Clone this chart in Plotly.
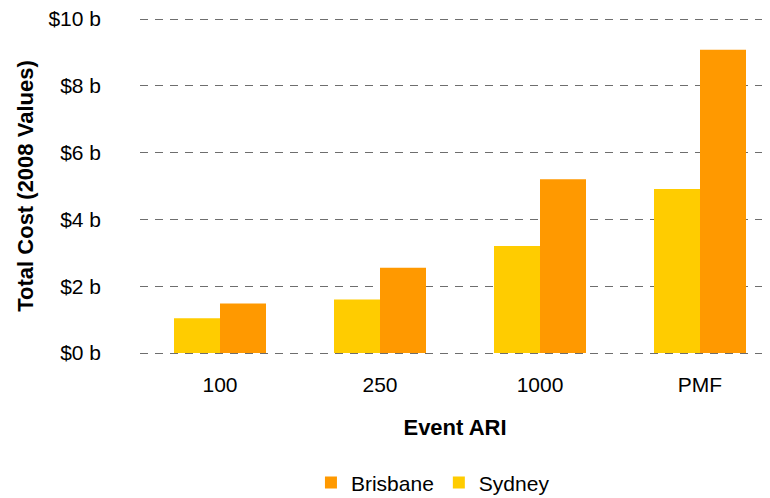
import plotly.graph_objects as go

categories = ["100", "250", "1000", "PMF"]
sydney = [1.04, 1.6, 3.2, 4.91]
brisbane = [1.48, 2.55, 5.2, 9.08]
y_ticks = [0, 2, 4, 6, 8, 10]
y_tick_labels = ["$0 b", "$2 b", "$4 b", "$6 b", "$8 b", "$10 b"]

fig = go.Figure()
fig.add_trace(go.Bar(x=categories, y=sydney, name="Sydney", marker=dict(color="#FFCC00", line=dict(width=0))))
fig.add_trace(go.Bar(x=categories, y=brisbane, name="Brisbane", marker=dict(color="#FF9900", line=dict(width=0))))

font = "Liberation Sans, Arial, sans-serif"
# The page body has an 8px default margin, so the figure is sized 762x490.
fig.update_layout(
    template="none",
    width=762, height=490,
    margin=dict(l=132, r=0, t=9, b=143, autoexpand=False),
    plot_bgcolor="white", paper_bgcolor="white",
    barmode="group", bargap=0.425, bargroupgap=0,
    font=dict(family=font, size=21, color="#000000"),
    showlegend=True,
    legend=dict(orientation="h", x=0.465, xanchor="center", y=-0.378, yanchor="middle",
                traceorder="reversed", font=dict(size=21), itemwidth=30,
                bgcolor="rgba(0,0,0,0)"),
    xaxis=dict(
        type="category", range=[-0.5, 3.4375], showgrid=False, showline=False, ticks="",
        zeroline=False, automargin=False, ticklabelstandoff=15,
        title=dict(text="<b>Event ARI</b>", font=dict(size=22), standoff=24),
        tickfont=dict(size=21),
    ),
    yaxis=dict(
        range=[-0.06, 10.06], tickvals=y_ticks, ticktext=y_tick_labels,
        showgrid=True, gridcolor="#6e6e6e", griddash="8px,7px", gridwidth=1,
        zeroline=False, showline=False, ticks="", automargin=False,
        ticklabelstandoff=38, tickfont=dict(size=21), ticklabeloverflow="allow",
        title=dict(text="<b>Total Cost (2008 Values)</b>", font=dict(size=22), standoff=8),
    ),
)
fig.write_html("out.html")
